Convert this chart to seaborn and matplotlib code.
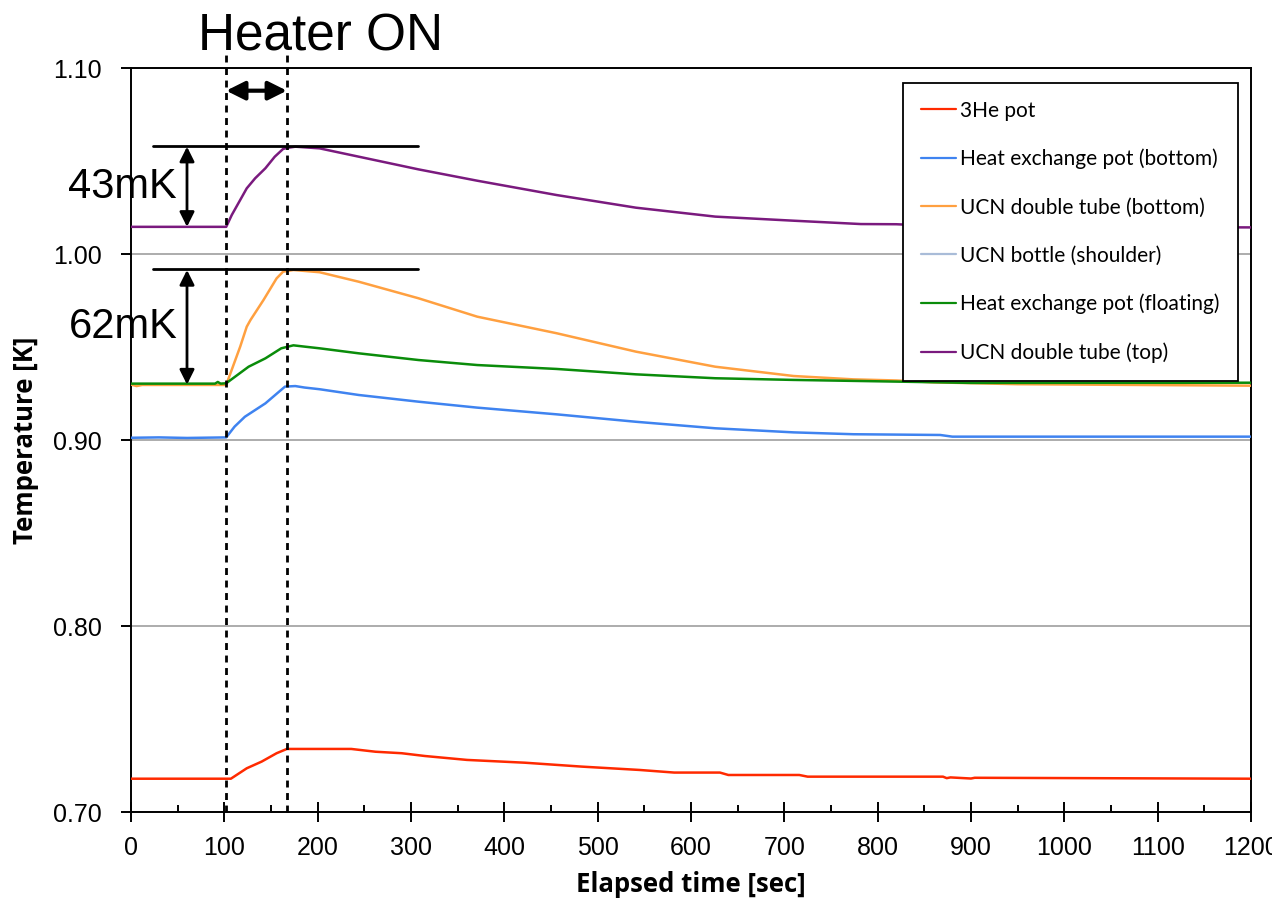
import numpy as np
import pandas as pd
import seaborn as sns
import matplotlib
matplotlib.use("Agg")
import matplotlib.pyplot as plt
from matplotlib.lines import Line2D

# ---------------- data ----------------
heater_on = 102
heater_off = 167

red_t = [0, 107, 124, 140, 156, 167, 236, 262, 290, 315, 360, 422, 483, 545, 582, 631, 640, 716, 725, 870, 874, 878, 900, 904, 1200]
red_T = [0.7179, 0.7179, 0.7235, 0.7271, 0.7316, 0.7339, 0.7339, 0.7324, 0.7316, 0.7301, 0.7280, 0.7265, 0.7244, 0.7226,
         0.7212, 0.7212, 0.7199, 0.7199, 0.7190, 0.7190, 0.7182, 0.7186, 0.7180, 0.7184, 0.7179]

blue_t = [0, 30, 60, 102, 111, 122, 144, 165, 176, 186, 202, 244, 308, 371, 456, 541, 626, 710, 774, 867, 880, 1200]
blue_T = [0.9012, 0.9014, 0.9011, 0.9014, 0.9072, 0.9125, 0.9197, 0.9287, 0.9290, 0.9282, 0.9273, 0.9242, 0.9206,
          0.9174, 0.9138, 0.9098, 0.9063, 0.9041, 0.9031, 0.9027, 0.9018, 0.9018]

orange_t = [0, 6, 12, 102, 117, 124, 128, 142, 156, 163, 174, 202, 244, 308, 371, 456, 541, 626, 710, 774, 820, 860,
            950, 1200]
orange_T = [0.9298, 0.9290, 0.9296, 0.9296, 0.9502, 0.9609, 0.9645, 0.9753, 0.9869, 0.9905, 0.9914, 0.9902, 0.9851,
            0.9762, 0.9663, 0.9574, 0.9475, 0.9394, 0.9344, 0.9326, 0.9320, 0.9310, 0.9300, 0.9292]

shoulder_t = []
shoulder_T = []

green_t = [0, 90, 93, 96, 102, 126, 144, 161, 174, 186, 202, 244, 308, 371, 456, 541, 626, 710, 820, 900, 1200]
green_T = [0.9303, 0.9303, 0.9312, 0.9303, 0.9305, 0.9394, 0.9439, 0.9493, 0.9509, 0.9502, 0.9493, 0.9466, 0.9430,
           0.9403, 0.9382, 0.9353, 0.9332, 0.9323, 0.9314, 0.9307, 0.9308]

purple_t = [0, 102, 108, 124, 133, 144, 154, 163, 167, 176, 202, 308, 371, 456, 541, 626, 710, 782, 820, 880, 1200]
purple_T = [1.0146, 1.0146, 1.0210, 1.0353, 1.0407, 1.0461, 1.0523, 1.0565, 1.0570, 1.0577, 1.0568, 1.0455, 1.0394,
            1.0317, 1.0249, 1.0201, 1.0179, 1.0161, 1.0160, 1.0147, 1.0143]

series_names = ["3He pot", "Heat exchange pot (bottom)", "UCN double tube (bottom)",
                "UCN bottle (shoulder)", "Heat exchange pot (floating)", "UCN double tube (top)"]
series_colors = ["#ff2a00", "#3f83f0", "#ffa040", "#a9bcd8", "#0a8c0a", "#7a1a7e"]

x_ticks = list(range(0, 1201, 100))
y_ticks = [0.70, 0.80, 0.90, 1.00, 1.10]

# ---------------- figure ----------------
sns.set_style("white")
plt.rcParams["font.family"] = ["Liberation Sans", "DejaVu Sans"]
plt.rcParams["text.color"] = "black"
plt.rcParams["axes.labelcolor"] = "black"
plt.rcParams["xtick.color"] = "black"
plt.rcParams["ytick.color"] = "black"

fig = plt.figure(figsize=(12.72, 9.11), dpi=100)
ax = fig.add_axes([131 / 1272, 99 / 911, 1120 / 1272, 744 / 911])

all_t = [red_t, blue_t, orange_t, shoulder_t, green_t, purple_t]
all_T = [red_T, blue_T, orange_T, shoulder_T, green_T, purple_T]
handles = []
for t, T, name, col in zip(all_t, all_T, series_names, series_colors):
    if len(t):
        sns.lineplot(x=t, y=T, color=col, lw=1.8, ax=ax, legend=False, zorder=3)
    handles.append(Line2D([0], [0], color=col, lw=1.6, label=name))

ax.set_xlim(0, 1200)
ax.set_ylim(0.70, 1.10)
ax.set_xticks(x_ticks)
ax.set_xticks(list(range(50, 1200, 100)), minor=True)
ax.set_yticks(y_ticks)
ax.set_yticklabels([f"{v:.2f}" for v in y_ticks])
ax.set_xticklabels([str(v) for v in x_ticks])

ax.grid(axis="y", color="#a6a6a6", lw=1.3, zorder=0)
ax.grid(axis="x", visible=False)
for s in ax.spines.values():
    s.set_color("black")
    s.set_linewidth(1.4)

ax.tick_params(axis="y", which="major", direction="out", length=7, width=1.4, pad=14,
               labelsize=18, colors="black", left=True)
ax.tick_params(axis="x", which="major", direction="inout", length=14, width=1.4, pad=10,
               labelsize=18, colors="black", bottom=True)
ax.tick_params(axis="x", which="minor", direction="in", length=5, width=1.4, bottom=True)

lab_font = ["Open Sans", "DejaVu Sans"]
ax.set_xlabel("Elapsed time [sec]", fontsize=18.5, fontweight="bold", family=lab_font, labelpad=8)
ax.set_ylabel("Temperature [K]", fontsize=18.5, fontweight="bold", family=lab_font, labelpad=10)

# heater markers
for xv in (heater_on, heater_off):
    ax.plot([xv, xv], [0.70, 1.1093], color="black", lw=2, ls=(0, (2.5, 2)), clip_on=False, zorder=5)

ax.text(heater_off + 36, 1.1093, "Heater ON", fontsize=37, ha="center", va="baseline", clip_on=False)
ax.annotate("", xy=(heater_on, 1.0878), xytext=(heater_off, 1.0878),
            arrowprops=dict(arrowstyle="<|-|>", color="black", lw=3, mutation_scale=28,
                            shrinkA=0, shrinkB=0), annotation_clip=False)

# rise annotations
arrow_x = 60
for base, peak, label in ((purple_T[0], max(purple_T), "43mK"), (orange_T[0], max(orange_T), "62mK")):
    ax.plot([24, 307], [peak + 0.0004, peak + 0.0004], color="black", lw=2, zorder=5)
    ax.annotate("", xy=(arrow_x, peak), xytext=(arrow_x, base),
                arrowprops=dict(arrowstyle="<|-|>", color="black", lw=2, mutation_scale=22,
                                shrinkA=0, shrinkB=0), annotation_clip=False)
    ax.text(-67, (base + peak) / 2 - 0.006, label, fontsize=30, ha="left", va="baseline", clip_on=False, zorder=6)

leg = ax.legend(handles=handles, loc="upper right", bbox_to_anchor=(0.988, 0.98), frameon=True,
                fancybox=False, edgecolor="black", framealpha=1, borderpad=0.85, labelspacing=1.35,
                handlelength=1.7, handletextpad=0.2, borderaxespad=0,
                prop={"family": ["Lato", "DejaVu Sans"], "size": 15})
leg.get_frame().set_linewidth(1.3)

fig.savefig("out.png", dpi=100)
